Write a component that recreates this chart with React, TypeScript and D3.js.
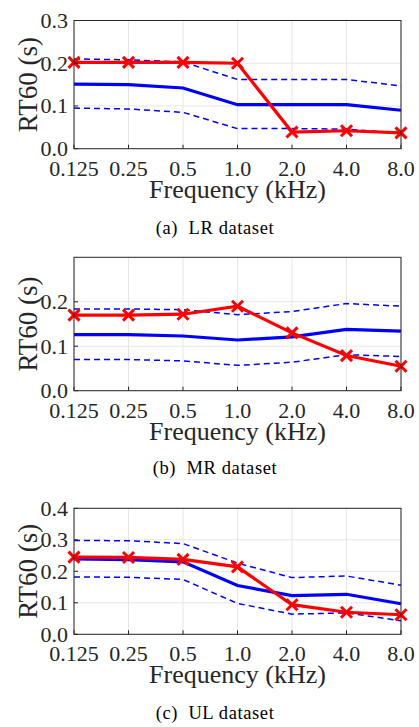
import React from "react";
import * as d3 from "d3";

const freqLabels = ["0.125", "0.25", "0.5", "1.0", "2.0", "4.0", "8.0"];

const lrProposed = [0.202, 0.202, 0.202, 0.2, 0.039, 0.042, 0.037];
const lrMean = [0.151, 0.15, 0.142, 0.103, 0.103, 0.103, 0.09];
const lrUpper = [0.21, 0.208, 0.203, 0.162, 0.162, 0.162, 0.147];
const lrLower = [0.095, 0.093, 0.085, 0.047, 0.047, 0.046, 0.036];
const lrTicks = [0, 0.1, 0.2, 0.3];

const mrProposed = [0.17, 0.17, 0.172, 0.19, 0.13, 0.079, 0.055];
const mrMean = [0.126, 0.126, 0.123, 0.114, 0.121, 0.138, 0.134];
const mrUpper = [0.184, 0.184, 0.182, 0.171, 0.178, 0.196, 0.19];
const mrLower = [0.07, 0.07, 0.067, 0.057, 0.064, 0.081, 0.077];
const mrTicks = [0, 0.1, 0.2];

const ulProposed = [0.245, 0.244, 0.238, 0.214, 0.094, 0.07, 0.062];
const ulMean = [0.239, 0.237, 0.23, 0.155, 0.123, 0.127, 0.097];
const ulUpper = [0.298, 0.297, 0.288, 0.226, 0.18, 0.185, 0.156];
const ulLower = [0.182, 0.181, 0.174, 0.098, 0.064, 0.068, 0.043];
const ulTicks = [0, 0.1, 0.2, 0.3, 0.4];

const FONT = "'Liberation Serif', 'Times New Roman', serif";

type PanelProps = {
  top: number;
  bottom: number;
  yMax: number;
  yTicks: number[];
  proposed: number[];
  mean: number[];
  upper: number[];
  lower: number[];
  caption: string;
  captionY: number;
};

function Panel(p: PanelProps) {
  const left = 74;
  const right = 401;
  const x = d3.scalePoint<string>().domain(freqLabels).range([left, right]);
  const y = d3.scaleLinear().domain([0, p.yMax]).range([p.bottom, p.top]);
  const line = d3
    .line<number>()
    .x((_, i) => x(freqLabels[i]) as number)
    .y((d) => y(d));
  const axisColor = "#262626";
  const s = 5.5;
  return (
    <g>
      {freqLabels.map((f) => (
        <line key={"gx" + f} x1={x(f)} x2={x(f)} y1={p.top} y2={p.bottom} stroke="#e6e6e6" strokeWidth={1} />
      ))}
      {p.yTicks.map((t) => (
        <line key={"gy" + t} x1={left} x2={right} y1={y(t)} y2={y(t)} stroke="#e6e6e6" strokeWidth={1} />
      ))}
      <path d={line(p.upper) || ""} fill="none" stroke="#0000ff" strokeWidth={1.5} strokeDasharray="6,4" />
      <path d={line(p.lower) || ""} fill="none" stroke="#0000ff" strokeWidth={1.5} strokeDasharray="6,4" />
      <path d={line(p.mean) || ""} fill="none" stroke="#0000ff" strokeWidth={3.2} />
      <path d={line(p.proposed) || ""} fill="none" stroke="#ff0000" strokeWidth={3.2} />
      {p.proposed.map((v, i) => {
        const cx = x(freqLabels[i]) as number;
        const cy = y(v);
        return (
          <g key={"m" + i} stroke="#ff0000" strokeWidth={3}>
            <line x1={cx - s} y1={cy - s} x2={cx + s} y2={cy + s} />
            <line x1={cx - s} y1={cy + s} x2={cx + s} y2={cy - s} />
          </g>
        );
      })}
      <rect x={left} y={p.top} width={right - left} height={p.bottom - p.top} fill="none" stroke={axisColor} strokeWidth={1} />
      {freqLabels.map((f) => (
        <line key={"tx" + f} x1={x(f)} x2={x(f)} y1={p.bottom} y2={p.bottom - 4} stroke={axisColor} strokeWidth={1} />
      ))}
      {p.yTicks.map((t) => (
        <line key={"ty" + t} x1={left} x2={left + 4} y1={y(t)} y2={y(t)} stroke={axisColor} strokeWidth={1} />
      ))}
      {freqLabels.map((f) => (
        <text key={"lx" + f} x={x(f)} y={p.bottom + 27} textAnchor="middle" fontSize={22} fill={axisColor} fontFamily={FONT}>
          {f}
        </text>
      ))}
      {p.yTicks.map((t) => (
        <text key={"ly" + t} x={left - 6} y={y(t) + 7.5} textAnchor="end" fontSize={22} fill={axisColor} fontFamily={FONT}>
          {t.toFixed(1)}
        </text>
      ))}
      <text x={(left + right) / 2} y={p.bottom + 49} textAnchor="middle" fontSize={26} fill={axisColor} fontFamily={FONT}>
        Frequency (kHz)
      </text>
      <text
        transform={`translate(37, ${(p.top + p.bottom) / 2}) rotate(-90)`}
        textAnchor="middle"
        fontSize={27}
        fill={axisColor}
        fontFamily={FONT}
      >
        RT60 (s)
      </text>
      <text x={215} y={p.captionY} textAnchor="middle" fontSize={18.5} fill="#000" fontFamily={FONT} letterSpacing={0.6} style={{ whiteSpace: "pre" }}>
        {p.caption}
      </text>
    </g>
  );
}

export default function App() {
  return (
    <svg width={419} height={727} style={{ position: "absolute", left: 0, top: 0, background: "#fff" }}>
      <rect width={419} height={727} fill="#fff" />
      <Panel top={20.5} bottom={148.7} yMax={0.3} yTicks={lrTicks} proposed={lrProposed} mean={lrMean} upper={lrUpper} lower={lrLower} caption="(a)  LR dataset" captionY={234} />
      <Panel top={257.3} bottom={390.7} yMax={0.3} yTicks={mrTicks} proposed={mrProposed} mean={mrMean} upper={mrUpper} lower={mrLower} caption="(b)  MR dataset" captionY={474} />
      <Panel top={508.3} bottom={634.3} yMax={0.4} yTicks={ulTicks} proposed={ulProposed} mean={ulMean} upper={ulUpper} lower={ulLower} caption="(c)  UL dataset" captionY={719} />
    </svg>
  );
}
